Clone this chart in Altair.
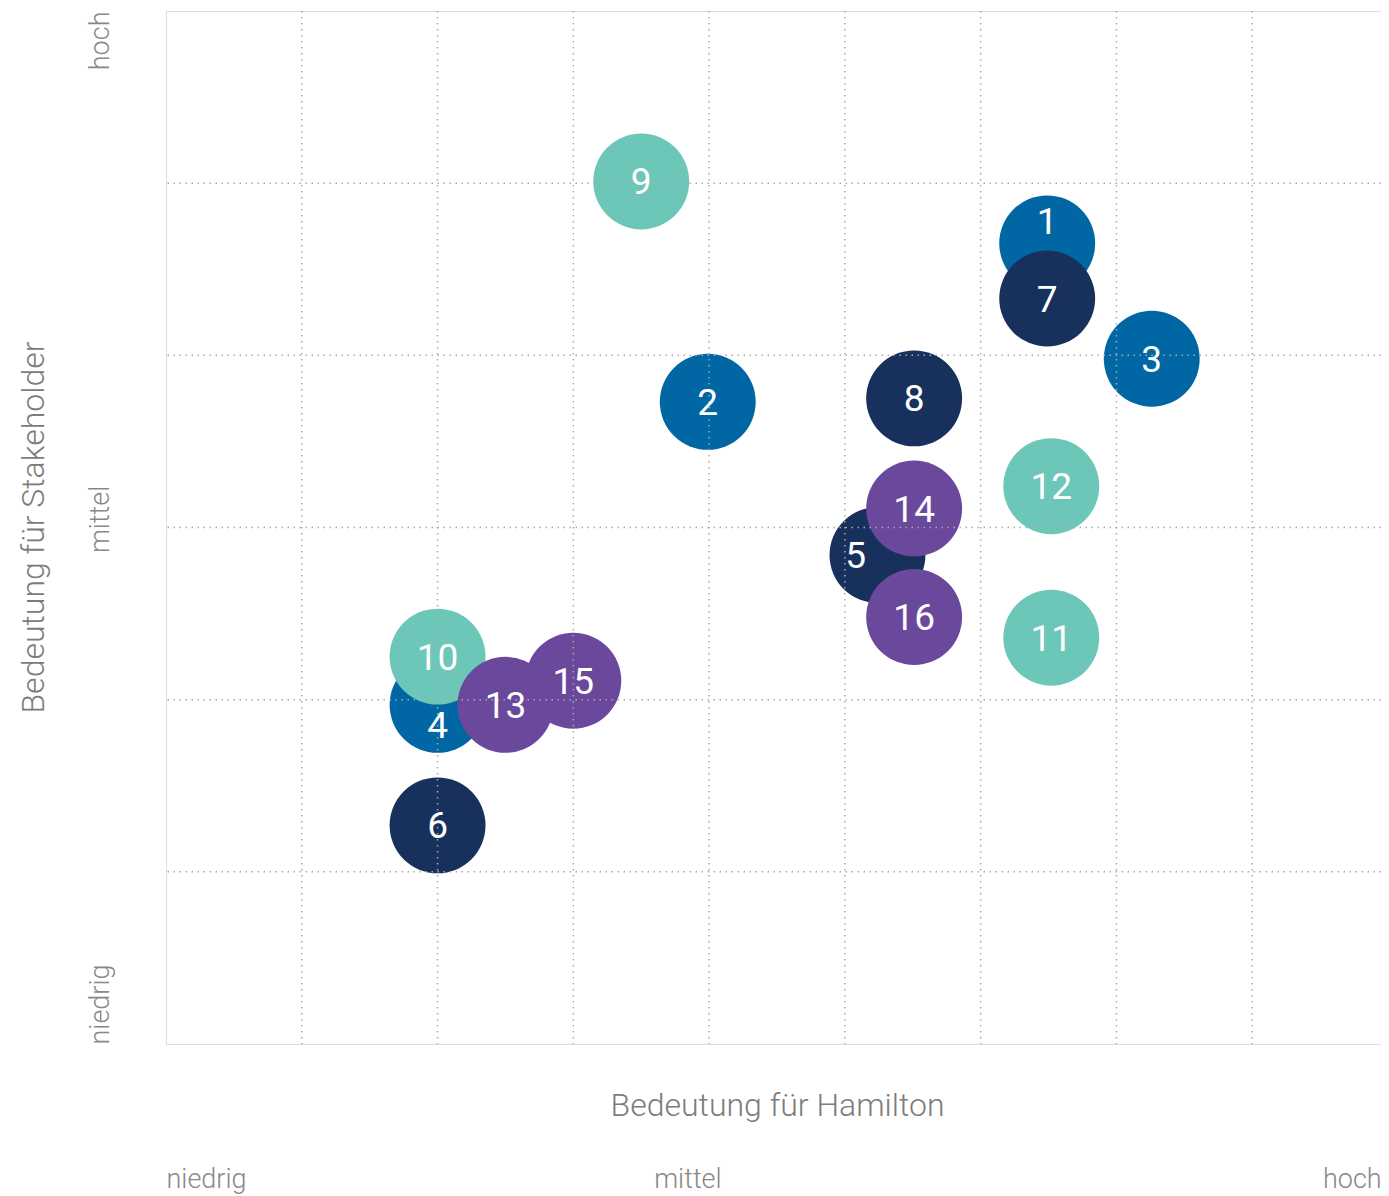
import altair as alt
import pandas as pd

# ---- data ----
ids = [str(i) for i in range(1, 17)]
groups = ["A", "A", "A", "A", "B", "B", "B", "B",
          "C", "C", "C", "C", "D", "D", "D", "D"]
x_vals = [6.49, 3.99, 7.26, 2.00, 5.24, 2.00, 6.49, 5.51,
          3.50, 2.00, 6.52, 6.52, 2.50, 5.51, 3.00, 5.51]
y_vals = [4.65, 3.73, 3.98, 1.97, 2.84, 1.27, 4.33, 3.75,
          5.01, 2.25, 2.36, 3.24, 1.97, 3.11, 2.11, 2.48]
label_x = [6.49, 3.99, 7.26, 2.00, 5.08, 2.00, 6.49, 5.51,
           3.50, 2.00, 6.52, 6.52, 2.50, 5.51, 3.00, 5.51]
label_y = [4.78, 3.73, 3.98, 1.85, 2.84, 1.27, 4.33, 3.75,
           5.01, 2.25, 2.36, 3.24, 1.97, 3.11, 2.11, 2.48]

group_names = ["A", "B", "C", "D"]
group_colors = ["#0067a4", "#17305c", "#6cc7b9", "#6a489c"]

x_grid = [1, 2, 3, 4, 5, 6, 7, 8]
y_grid = [1, 2, 3, 4, 5]

x_tick_values = [0, 3.84, 8.95]
x_tick_labels = ["niedrig", "mittel", "hoch"]
y_tick_values = [0, 3.05, 6]
y_tick_labels = ["niedrig", "mittel", "hoch"]

x_title = "Bedeutung für Hamilton"
y_title = "Bedeutung für Stakeholder"

df = pd.DataFrame({"id": ids, "group": groups, "x": x_vals, "y": y_vals,
                   "lx": label_x, "ly": label_y})
gx = pd.DataFrame({"v": x_grid})
gy = pd.DataFrame({"v": y_grid})


def label_expr(values, labels):
    expr = "''"
    for v, l in zip(values, labels):
        expr = f"abs(datum.value - {v}) < 0.001 ? '{l}' : ({expr})"
    return expr


FONT = "Roboto"
LABEL_COLOR = "#888888"
TITLE_COLOR = "#7c7c7c"

PLOT_W = 1215
PLOT_H = 1033

x_scale = alt.Scale(domain=[0, 9], range=[0, 1222], nice=False, zero=False)
y_scale = alt.Scale(domain=[0, 6], nice=False, zero=False)

x_axis = alt.Axis(
    values=x_tick_values,
    labelExpr=label_expr(x_tick_values, x_tick_labels),
    grid=False, ticks=False, tickSize=0, domain=False,
    labelPadding=143, labelBaseline="alphabetic",
    labelAlign={"condition": [{"test": "datum.value <= 0", "value": "left"},
                              {"test": "datum.value >= 8.9", "value": "right"}],
                "value": "center"},
    labelFont=FONT, labelFontSize=27, labelFontWeight=300, labelColor=LABEL_COLOR,
    labelOverlap=False, labelBound=False, labelFlush=False,
    title=x_title, titleFont=FONT, titleFontSize=32, titleFontWeight=300,
    titleColor=TITLE_COLOR, titleBaseline="alphabetic", titleY=71, titleX=611,
    titleAlign="center",
)

y_axis = alt.Axis(
    values=y_tick_values,
    labelExpr=label_expr(y_tick_values, y_tick_labels),
    grid=False, ticks=False, tickSize=0, domain=False,
    labelAngle=270, labelPadding=58, labelBaseline="alphabetic",
    labelAlign={"condition": [{"test": "datum.value <= 0", "value": "left"},
                              {"test": "datum.value >= 6", "value": "right"}],
                "value": "center"},
    labelFont=FONT, labelFontSize=27, labelFontWeight=300, labelColor=LABEL_COLOR,
    labelOverlap=False, labelBound=False, labelFlush=False,
    title=y_title, titleFont=FONT, titleFontSize=32, titleFontWeight=300,
    titleColor=TITLE_COLOR, titleBaseline="alphabetic", titleX=-123, titleY=516,
    titleAngle=270,
)

circles = alt.Chart(df).mark_circle(size=9200, opacity=1).encode(
    x=alt.X("x:Q", scale=x_scale, axis=x_axis),
    y=alt.Y("y:Q", scale=y_scale, axis=y_axis),
    color=alt.Color("group:N", scale=alt.Scale(domain=group_names, range=group_colors),
                    legend=None),
)

grid_x = alt.Chart(gx).mark_rule(color="#a9a9a9", strokeWidth=1.5, strokeDash=[1.5, 4.5]).encode(
    x=alt.X("v:Q", scale=x_scale)
)
grid_y = alt.Chart(gy).mark_rule(color="#a9a9a9", strokeWidth=1.5, strokeDash=[1.5, 4.5]).encode(
    y=alt.Y("v:Q", scale=y_scale)
)

labels = alt.Chart(df).mark_text(
    color="white", font=FONT, fontSize=37, fontWeight=400,
    align="center", baseline="middle", dy=2,
).encode(
    x=alt.X("lx:Q", scale=x_scale),
    y=alt.Y("ly:Q", scale=y_scale),
    text="id:N",
)

chart = alt.layer(circles, grid_x, grid_y, labels).properties(
    width=PLOT_W, height=PLOT_H,
    autosize=alt.AutoSizeParams(type="none"),
    padding={"left": 158, "top": 3, "right": 0, "bottom": 152},
).configure_view(
    stroke="#b2b2b6", strokeWidth=1.6,
).configure(
    background="white",
)

chart.save("out.html", embed_options={"renderer": "svg", "actions": False})
